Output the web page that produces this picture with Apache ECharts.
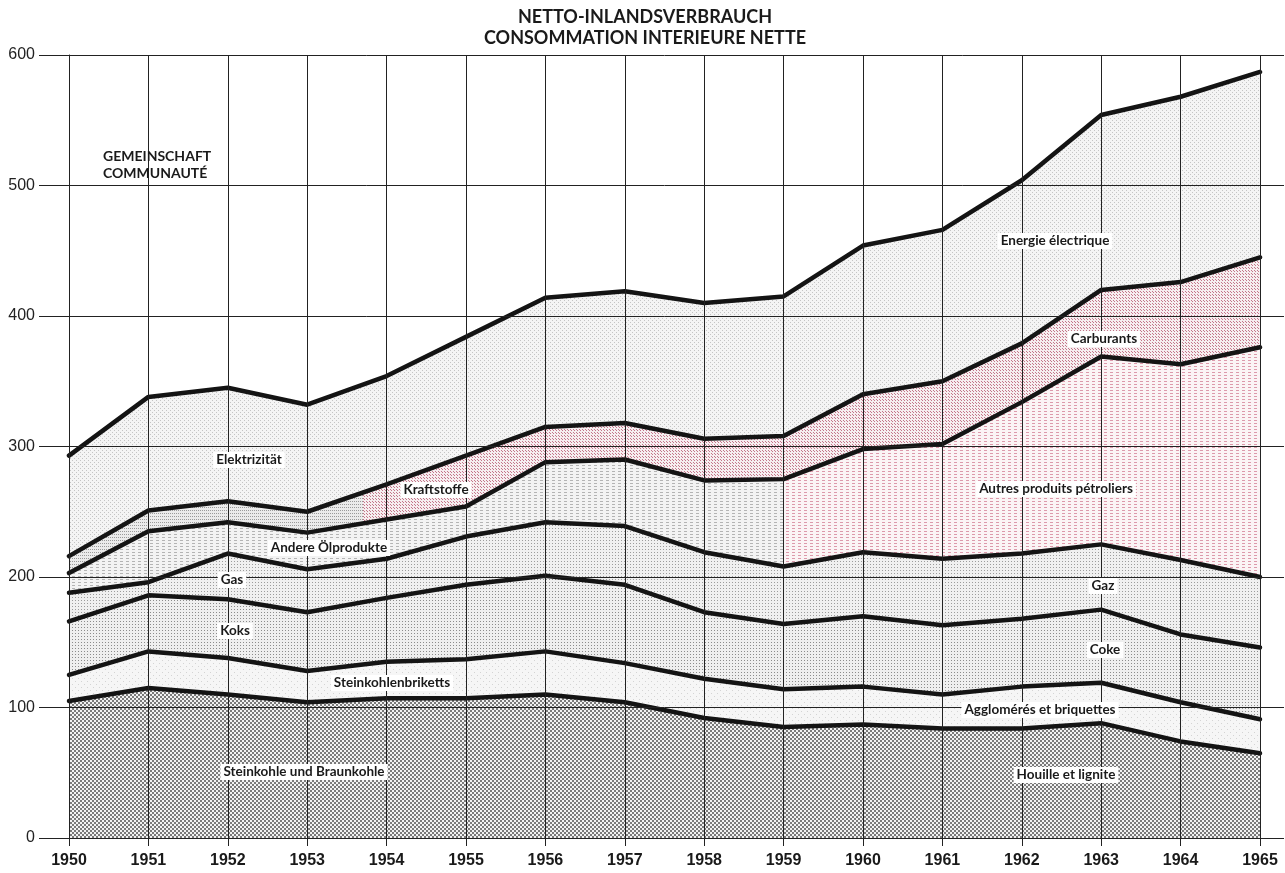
<!DOCTYPE html>
<html>
<head>
<meta charset="utf-8">
<script src="https://cdn.jsdelivr.net/npm/echarts@6/dist/echarts.min.js"></script>
<style>
  html, body { margin: 0; padding: 0; background: #fff; }
  #main { width: 1285px; height: 873px; }
</style>
</head>
<body>
<div id="main"></div>
<script>
// Netto-Inlandsverbrauch / Consommation intérieure nette, Gemeinschaft 1950-1965
var years = ['1950', '1951', '1952', '1953', '1954', '1955', '1956', '1957',
             '1958', '1959', '1960', '1961', '1962', '1963', '1964', '1965'];

// layer values (stacked from the bottom up)
var steinkohle   = [105, 115, 110, 104, 107, 107, 110, 104, 92, 85, 87, 84, 84, 88, 74, 65];
var briketts     = [20, 28, 28, 24, 28, 30, 33, 30, 30, 29, 29, 26, 32, 31, 30, 26];
var koks         = [41, 43, 45, 45, 49, 57, 58, 60, 51, 50, 54, 53, 52, 56, 52, 55];
var gas          = [22, 10, 35, 33, 30, 37, 41, 45, 46, 44, 49, 51, 50, 50, 57, 54];
var oelprodukte  = [15, 39, 24, 28, 30, 23, 46, 51, 55, 67, 79, 88, 116, 144, 150, 176];
var kraftstoffe  = [13, 16, 16, 16, 27, 39, 27, 28, 32, 33, 42, 48, 45, 51, 63, 69];
var elektrizitaet = [77, 87, 87, 82, 83, 91, 99, 101, 104, 107, 114, 116, 125, 134, 142, 142];

var yMin = 0, yMax = 600, yStep = 100;

// text placed inside the bands (pixel layout)
var areaLabels = [
  { text: 'Elektrizität', x: 249, y: 460 },
  { text: 'Kraftstoffe', x: 436, y: 490 },
  { text: 'Andere Ölprodukte', x: 329, y: 548 },
  { text: 'Gas', x: 232, y: 580 },
  { text: 'Koks', x: 235, y: 631 },
  { text: 'Steinkohlenbriketts', x: 392, y: 683 },
  { text: 'Steinkohle und Braunkohle', x: 304, y: 772 },
  { text: 'Energie électrique', x: 1055, y: 241 },
  { text: 'Carburants', x: 1104, y: 339 },
  { text: 'Autres produits pétroliers', x: 1056, y: 489 },
  { text: 'Gaz', x: 1103, y: 586 },
  { text: 'Coke', x: 1105, y: 650 },
  { text: 'Agglomérés et briquettes', x: 1040, y: 710 },
  { text: 'Houille et lignite', x: 1066, y: 775 }
];

var chart = echarts.init(document.getElementById('main'));
var W = 1285;

// halftone-like fill: full-width strip so the tone can change at a given x
function strip(parts, h) {
  var c = document.createElement('canvas');
  c.width = W; c.height = h;
  var g = c.getContext('2d');
  parts.forEach(function (p) {
    g.fillStyle = p.bg;
    g.fillRect(p.from, 0, p.to - p.from, h);
    g.fillStyle = p.fg;
    for (var x = p.from - (p.from % p.w); x < p.to; x += p.w) {
      p.dots.forEach(function (d) {
        var dx = x + d[0];
        if (dx >= p.from && dx < p.to) g.fillRect(dx, d[1], d[2], d[3]);
      });
    }
  });
  return { image: c, repeat: 'repeat' };
}

var lineCol = '#141414';
var names = ['Steinkohle und Braunkohle', 'Steinkohlenbriketts', 'Koks', 'Gas',
             'Andere Ölprodukte', 'Kraftstoffe', 'Elektrizität'];
var values = [steinkohle, briketts, koks, gas, oelprodukte, kraftstoffe, elektrizitaet];

function buildSeries(fills) {
  return values.map(function (v, i) {
    return {
      name: names[i],
      type: 'line',
      stack: 'total',
      data: v,
      symbol: 'none',
      silent: true,
      z: 10 - i,
      lineStyle: { color: lineCol, width: 4.5, join: 'round', cap: 'round' },
      areaStyle: { color: fills ? fills[i] : '#eee', opacity: 1 },
      emphasis: { disabled: true }
    };
  });
}

var graphics = [
  { type: 'text', x: 645, y: 17, z: 30,
    style: { text: 'NETTO-INLANDSVERBRAUCH', fill: '#1a1a1a', align: 'center', verticalAlign: 'middle',
             fontFamily: 'Lato', fontWeight: 'bold', fontSize: 18 } },
  { type: 'text', x: 645, y: 38, z: 30,
    style: { text: 'CONSOMMATION INTERIEURE NETTE', fill: '#1a1a1a', align: 'center', verticalAlign: 'middle',
             fontFamily: 'Lato', fontWeight: 'bold', fontSize: 18 } },
  { type: 'text', x: 103, y: 156, z: 30,
    style: { text: 'GEMEINSCHAFT', fill: '#1a1a1a', align: 'left', verticalAlign: 'middle',
             fontFamily: 'Lato', fontWeight: 'bold', fontSize: 14 } },
  { type: 'text', x: 103, y: 173, z: 30,
    style: { text: 'COMMUNAUTÉ', fill: '#1a1a1a', align: 'left', verticalAlign: 'middle',
             fontFamily: 'Lato', fontWeight: 'bold', fontSize: 14 } }
].concat(areaLabels.map(function (l) {
  return { type: 'text', x: l.x, y: l.y, z: 30,
    style: { text: l.text, fill: '#1a1a1a', align: 'center', verticalAlign: 'middle',
             fontFamily: 'Lato', fontWeight: 'bold', fontSize: 13.5,
             backgroundColor: '#ffffff', padding: [1, 3] } };
}));

var gridLine = { color: '#222', width: 1 };

var option = {
  animation: false,
  backgroundColor: '#ffffff',
  grid: { left: 69, right: 25, top: 55, bottom: 35 },
  xAxis: [{
    type: 'category', data: years, boundaryGap: false, z: 20,
    axisLine: { lineStyle: gridLine },
    axisTick: { length: 8, interval: 0, lineStyle: gridLine },
    axisLabel: { interval: 0, margin: 15, fontFamily: 'Liberation Sans', fontWeight: 'bold',
                 fontSize: 16, color: '#1a1a1a' },
    splitLine: { show: true, interval: 0, lineStyle: gridLine }
  }, {
    type: 'category', data: years, boundaryGap: false, position: 'top', z: 20,
    axisLine: { show: false },
    axisTick: { show: true, length: 10, interval: 0, lineStyle: gridLine },
    axisLabel: { show: false },
    splitLine: { show: false }
  }],
  yAxis: [{
    type: 'value', min: yMin, max: yMax, interval: yStep, z: 20,
    axisLine: { show: true, lineStyle: gridLine },
    axisTick: { show: true, length: 30, lineStyle: gridLine },
    axisLabel: { margin: 34, fontFamily: 'Liberation Sans', fontSize: 16, color: '#222' },
    splitLine: { show: true, lineStyle: gridLine }
  }, {
    type: 'value', min: yMin, max: yMax, interval: yStep, position: 'right', z: 20,
    axisLine: { show: false },
    axisTick: { show: true, length: 24, lineStyle: gridLine },
    axisLabel: { show: false },
    splitLine: { show: false }
  }],
  graphic: graphics,
  series: buildSeries(null)
};

chart.setOption(option);

// x where the red overprint starts in the oil bands
var x53 = chart.convertToPixel({ xAxisIndex: 0 }, '1953');
var x54 = chart.convertToPixel({ xAxisIndex: 0 }, '1954');
var xFuelRed = Math.round(x53 + 0.7 * (x54 - x53));
var xOilRed = Math.round(chart.convertToPixel({ xAxisIndex: 0 }, '1959'));

var fills = [
  strip([{ from: 0, to: W, w: 4, bg: '#f2f2f2', fg: '#7a7a7a', dots: [[0, 0, 2, 2], [2, 2, 2, 2]] }], 4),
  strip([{ from: 0, to: W, w: 6, bg: '#f6f6f6', fg: '#d4d4d4', dots: [[0, 0, 1, 1], [3, 3, 1, 1]] }], 6),
  strip([{ from: 0, to: W, w: 3, bg: '#efefef', fg: '#8c8c8c', dots: [[0, 0, 1, 1]] }], 3),
  strip([{ from: 0, to: W, w: 3, bg: '#f0f0f0', fg: '#9c9c9c', dots: [[0, 0, 1, 1]] }], 3),
  strip([
    { from: 0, to: xOilRed, w: 6, bg: '#f3f3f3', fg: '#b4b4b4', dots: [[0, 0, 3, 1]] },
    { from: xOilRed, to: W, w: 6, bg: '#fbf4f5', fg: '#dc9aab', dots: [[0, 0, 3, 1]] }
  ], 3),
  strip([
    { from: 0, to: xFuelRed, w: 2, bg: '#ebebeb', fg: '#9a9a9a', dots: [[0, 0, 1, 1]] },
    { from: xFuelRed, to: W, w: 3, bg: '#f6eef0', fg: '#c4768a', dots: [[0, 0, 1, 1], [1, 1, 1, 1]] }
  ], 3),
  strip([{ from: 0, to: W, w: 4, bg: '#f4f4f4', fg: '#c4c4c4', dots: [[0, 0, 1, 1], [2, 2, 1, 1]] }], 4)
];

chart.setOption({ series: buildSeries(fills) });
</script>
</body>
</html>
